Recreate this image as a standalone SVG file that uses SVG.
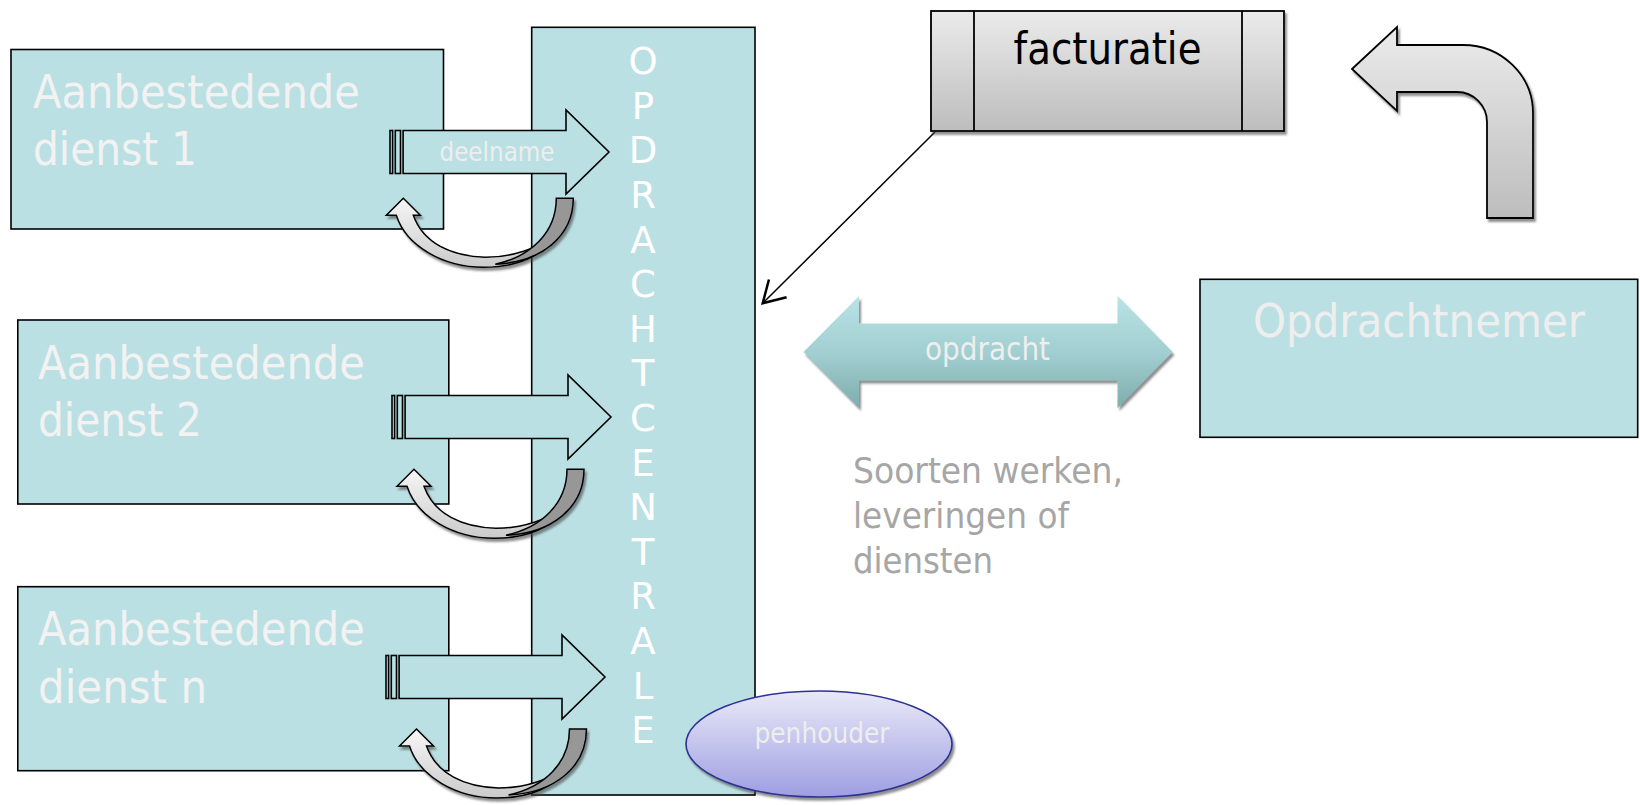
<svg xmlns="http://www.w3.org/2000/svg" xmlns:xlink="http://www.w3.org/1999/xlink" width="1640" height="805" viewBox="0 0 1640 805">
<style>
.box{fill:#bbe0e3;stroke:#000;stroke-width:1.6}
.bt{font-family:"DejaVu Sans","Liberation Sans",sans-serif;font-size:46px;fill:#f2f2f2}
.vl{font-family:"DejaVu Sans","Liberation Sans",sans-serif;font-size:37px;fill:#ffffff;text-anchor:middle}
.arr{fill:#bbe0e3;stroke:#000;stroke-width:1.6;stroke-linejoin:miter}
.gray{font-family:"DejaVu Sans","Liberation Sans",sans-serif;font-size:36px;fill:#a6a6a6}
.lbl{font-family:"DejaVu Sans","Liberation Sans",sans-serif;fill:#eeeeee;text-anchor:middle}
</style>
<defs>
<filter id="sh" x="-10%" y="-10%" width="130%" height="140%">
<feDropShadow dx="2" dy="3" stdDeviation="1" flood-color="#444" flood-opacity="0.6"/>
</filter>
<linearGradient id="gLight" x1="0" y1="0" x2="0" y2="1">
<stop offset="0" stop-color="#f6f6f6"/><stop offset="1" stop-color="#cbcbcb"/>
</linearGradient>
<linearGradient id="gGray" x1="0" y1="0" x2="0" y2="1">
<stop offset="0" stop-color="#ebebeb"/><stop offset="1" stop-color="#bdbdbd"/>
</linearGradient>
<linearGradient id="gTeal" x1="0" y1="0" x2="0" y2="1">
<stop offset="0" stop-color="#b9e3e6"/><stop offset="0.5" stop-color="#a2cfd1"/><stop offset="1" stop-color="#7eadae"/>
</linearGradient>
<linearGradient id="gPurp" x1="0" y1="0" x2="0" y2="1">
<stop offset="0" stop-color="#e9e9f8"/><stop offset="1" stop-color="#9e9ee2"/>
</linearGradient>
<g id="striped">
<rect class="arr" x="-219" y="-21.5" width="2.6" height="43"/>
<rect class="arr" x="-213.7" y="-21.5" width="5.2" height="43"/>
<path class="arr" d="M-205.9,-21.5 L-43,-21.5 L-43,-42 L0,0 L-43,42 L-43,21.5 L-205.9,21.5 Z"/>
</g>
<g id="curved" filter="url(#sh)" stroke="#000" stroke-width="1.5" stroke-linejoin="miter">
<path fill="url(#gLight)" d="M-17,17 L0,0 L17,17 L10,17 C20,45 48,58 82,59 C110,59 135,50 152,36 C140,58 114,69 80,69 C40,69 3,48 -7,17 Z"/>
<path fill="#979797" d="M153,0 L170,0 C170,38 138,64 92,66 C128,58 153,34 153,0 Z"/>
</g>
<marker id="open" markerUnits="userSpaceOnUse" markerWidth="30" markerHeight="30" viewBox="-20 -12 24 24" refX="0" refY="0" orient="auto" overflow="visible">
<path d="M-17,-10 L0,0 L-17,10" fill="none" stroke="#000" stroke-width="2"/>
</marker>
</defs>
<rect width="1640" height="805" fill="#ffffff"/>

<g id="dienst1">
<rect class="box" x="11" y="49.5" width="432.5" height="179.5"/>
<text class="bt" x="33" y="107.5" textLength="327" lengthAdjust="spacingAndGlyphs">Aanbestedende</text>
<text class="bt" x="33" y="165" textLength="164" lengthAdjust="spacingAndGlyphs">dienst 1</text>
</g>
<g id="dienst2">
<rect class="box" x="17.8" y="320" width="431" height="184"/>
<text class="bt" x="38" y="378.5" textLength="327" lengthAdjust="spacingAndGlyphs">Aanbestedende</text>
<text class="bt" x="38" y="436" textLength="164" lengthAdjust="spacingAndGlyphs">dienst 2</text>
</g>
<g id="dienstn">
<rect class="box" x="17.8" y="586.7" width="431" height="184"/>
<text class="bt" x="38" y="645" textLength="327" lengthAdjust="spacingAndGlyphs">Aanbestedende</text>
<text class="bt" x="38" y="702.5" textLength="169" lengthAdjust="spacingAndGlyphs">dienst n</text>
</g>

<g id="opdrachtcentrale">
<rect class="box" x="531.7" y="27.3" width="223.3" height="767.7"/>
<text class="vl" x="643" y="74">O</text>
<text class="vl" x="643" y="118.6">P</text>
<text class="vl" x="643" y="163.2">D</text>
<text class="vl" x="643" y="207.9">R</text>
<text class="vl" x="643" y="252.5">A</text>
<text class="vl" x="643" y="297.1">C</text>
<text class="vl" x="643" y="341.7">H</text>
<text class="vl" x="643" y="386.3">T</text>
<text class="vl" x="643" y="431">C</text>
<text class="vl" x="643" y="475.6">E</text>
<text class="vl" x="643" y="520.2">N</text>
<text class="vl" x="643" y="564.8">T</text>
<text class="vl" x="643" y="609.4">R</text>
<text class="vl" x="643" y="654">A</text>
<text class="vl" x="643" y="698.7">L</text>
<text class="vl" x="643" y="743.3">E</text>
</g>

<g id="connectors">
<g id="deelname1">
<use xlink:href="#striped" href="#striped" transform="translate(609,152)"/>
<text class="lbl" x="497" y="161" font-size="26.7" textLength="115" lengthAdjust="spacingAndGlyphs">deelname</text>
</g>
<use id="deelname2" xlink:href="#striped" href="#striped" transform="translate(611,417)"/>
<use id="deelname3" xlink:href="#striped" href="#striped" transform="translate(605,677)"/>
<use id="terug1" xlink:href="#curved" href="#curved" transform="translate(403.3,198.3)"/>
<use id="terug2" xlink:href="#curved" href="#curved" transform="translate(414,469.3)"/>
<use id="terug3" xlink:href="#curved" href="#curved" transform="translate(416.5,729)"/>
<line id="factuurlijn" x1="935" y1="132" x2="762.7" y2="303.3" stroke="#000" stroke-width="1.5" marker-end="url(#open)"/>
<g id="opdracht">
<path filter="url(#sh)" fill="url(#gTeal)" d="M803.5,352 L859,296 L859,323.5 L1117.5,323.5 L1117.5,296 L1172.5,352 L1117.5,408 L1117.5,380.5 L859,380.5 L859,408 Z"/>
<text class="lbl" x="987.5" y="360" font-size="32" textLength="125" lengthAdjust="spacingAndGlyphs">opdracht</text>
</g>
<path id="uturn" filter="url(#sh)" fill="url(#gGray)" stroke="#000" stroke-width="1.8" d="M1352,69 L1397,27 L1397,45 L1463,45 A70,68 0 0 1 1533,113 L1533,218 L1487,218 L1487,122 A30,30 0 0 0 1457,92 L1397,92 L1397,111 Z"/>
</g>

<g id="facturatie">
<rect x="931" y="11" width="353" height="120" fill="url(#gGray)" stroke="#000" stroke-width="1.8" filter="url(#sh)"/>
<line x1="974" y1="11" x2="974" y2="131" stroke="#000" stroke-width="1.8"/>
<line x1="1242" y1="11" x2="1242" y2="131" stroke="#000" stroke-width="1.8"/>
<text x="1107.5" y="63.5" font-family="DejaVu Sans, Liberation Sans, sans-serif" font-size="44" fill="#000" text-anchor="middle" textLength="188" lengthAdjust="spacingAndGlyphs">facturatie</text>
</g>

<g id="opdrachtnemer">
<rect class="box" x="1200" y="279.3" width="437.7" height="158"/>
<text class="lbl" x="1419" y="337" font-size="46" textLength="332" lengthAdjust="spacingAndGlyphs">Opdrachtnemer</text>
</g>

<g id="soorten">
<text class="gray" x="853" y="483" textLength="270" lengthAdjust="spacingAndGlyphs">Soorten werken,</text>
<text class="gray" x="853" y="528" textLength="216" lengthAdjust="spacingAndGlyphs">leveringen of</text>
<text class="gray" x="853" y="573" textLength="140" lengthAdjust="spacingAndGlyphs">diensten</text>
</g>

<g id="penhouder">
<ellipse cx="819" cy="744" rx="133" ry="53" fill="url(#gPurp)" stroke="#2e3192" stroke-width="1.6" filter="url(#sh)"/>
<text class="lbl" x="822" y="743" font-size="28" textLength="135" lengthAdjust="spacingAndGlyphs">penhouder</text>
</g>
</svg>
